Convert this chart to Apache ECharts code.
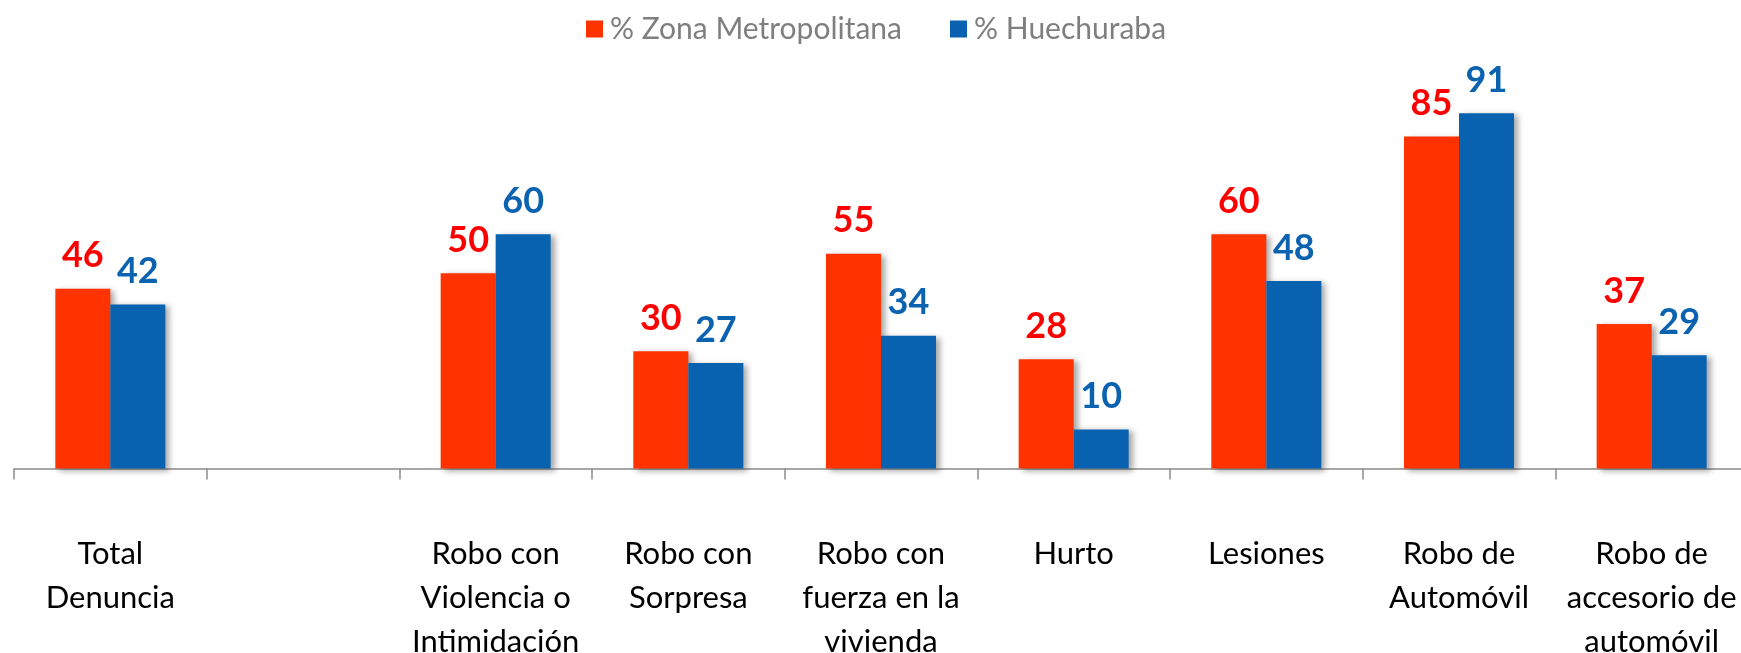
<!DOCTYPE html>
<html>
<head>
<meta charset="utf-8">
<script src="https://cdn.jsdelivr.net/npm/echarts@6/dist/echarts.min.js"></script>
<style>
html,body{margin:0;padding:0;background:#fff;}
#chart{width:1741px;height:653px;}
</style>
</head>
<body>
<div id="chart"></div>
<script>
const categories = [
  'Total\nDenuncia',
  '',
  'Robo con\nViolencia o\nIntimidación',
  'Robo con\nSorpresa',
  'Robo con\nfuerza en la\nvivienda',
  'Hurto',
  'Lesiones',
  'Robo de\nAutomóvil',
  'Robo de\naccesorio de\nautomóvil'
];
const seriesNames = ['% Zona Metropolitana', '% Huechuraba'];
const zonaMetropolitana = [46, null, 50, 30, 55, 28, 60, 85, 37];
const huechuraba = [42, null, 60, 27, 34, 10, 48, 91, 29];

const FONT = 'Lato, "Open Sans", sans-serif';
const chart = echarts.init(document.getElementById('chart'), null, {renderer: 'canvas'});

function barSeries(name, data, color, labelColor) {
  return {
    name: name,
    type: 'bar',
    data: data,
    barWidth: 55,
    barGap: '0%',
    itemStyle: {
      color: color,
      shadowBlur: 6,
      shadowColor: 'rgba(0,0,0,0.35)',
      shadowOffsetX: 4,
      shadowOffsetY: 2
    },
    label: {
      show: true,
      position: 'top',
      distance: 15,
      color: labelColor,
      fontFamily: FONT,
      fontWeight: 'bold',
      fontSize: 36
    }
  };
}

chart.setOption({
  animation: false,
  backgroundColor: '#ffffff',
  legend: {
    left: 581,
    top: 9,
    itemWidth: 17,
    itemHeight: 17,
    itemGap: 48,
    icon: 'rect',
    textStyle: {
      color: '#7f7f7f',
      fontFamily: FONT,
      fontSize: 30,
      padding: [0, 0, 0, 2]
    },
    data: seriesNames
  },
  grid: {
    left: 14,
    right: -7,
    top: 78,
    bottom: 184.5,
    containLabel: false,
    outerBoundsMode: 'none'
  },
  xAxis: {
    type: 'category',
    data: categories,
    boundaryGap: true,
    axisLine: {show: true, lineStyle: {color: '#8c8c8c', width: 1.5}},
    axisTick: {show: true, length: 11, lineStyle: {color: '#8c8c8c', width: 1.5}},
    axisLabel: {
      interval: 0,
      margin: 63,
      color: '#000000',
      fontFamily: FONT,
      fontSize: 31,
      lineHeight: 44
    }
  },
  yAxis: {
    type: 'value',
    min: 0,
    max: 100,
    show: false,
    splitLine: {show: false}
  },
  series: [
    barSeries(seriesNames[0], zonaMetropolitana, '#FF3300', '#FF0000'),
    barSeries(seriesNames[1], huechuraba, '#0862B0', '#0B63B0')
  ]
});
</script>
</body>
</html>
